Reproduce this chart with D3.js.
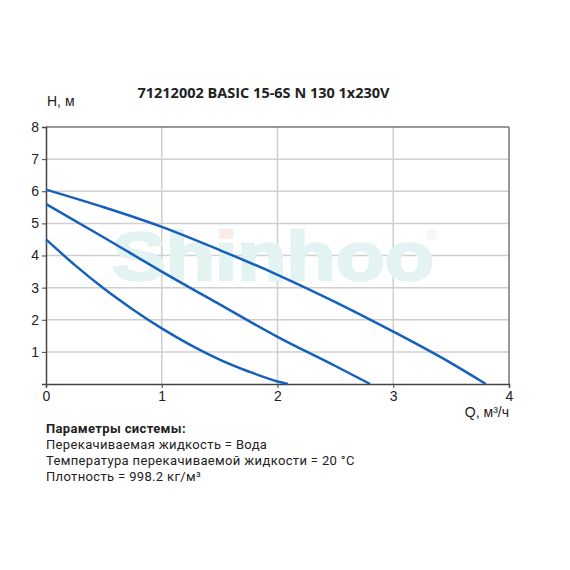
<!DOCTYPE html>
<html><head><meta charset="utf-8">
<script src="https://cdn.jsdelivr.net/npm/d3@7"></script>
<style>body{margin:0;background:#fff}</style>
</head><body>
<script>
const title = "71212002 BASIC 15-6S N 130 1x230V";
const xTicks = [0,1,2,3,4];
const yTicks = [1,2,3,4,5,6,7,8];
const curveLow = [[0,4.5],[0.25,3.7],[0.5,2.97],[0.75,2.32],[1,1.73],[1.25,1.21],[1.5,0.76],[1.75,0.39],[2,0.08],[2.09,0]];
const curveMid = [[0,5.6],[0.5,4.56],[1,3.5],[1.5,2.48],[2,1.47],[2.5,0.56],[2.8,0]];
const curveHigh = [[0,6.05],[0.5,5.5],[1,4.89],[1.5,4.17],[2,3.4],[2.5,2.55],[3,1.63],[3.5,0.65],[3.8,0]];
const infoLines = ["Параметры системы:","Перекачиваемая жидкость = Вода","Температура перекачиваемой жидкости = 20 °C","Плотность = 998.2 кг/м³"];

const W=570,H=570;
const svg=d3.select("body").append("svg").attr("width",W).attr("height",H);
const x=d3.scaleLinear().domain([0,4]).range([46,509]);
const y=d3.scaleLinear().domain([0,8]).range([384,127]);

// grid
svg.append("g").selectAll("line").data(xTicks.filter(d=>d>0&&d<4)).join("line")
 .attr("x1",d=>x(d)).attr("x2",d=>x(d)).attr("y1",y(0)).attr("y2",y(8))
 .attr("stroke","#cfcfcf").attr("stroke-width",1.5);
svg.append("g").selectAll("line").data(yTicks.filter(d=>d<8)).join("line")
 .attr("x1",x(0)).attr("x2",x(4)).attr("y1",d=>y(d)).attr("y2",d=>y(d))
 .attr("stroke","#cfcfcf").attr("stroke-width",1.5);
// frame top/right
svg.append("line").attr("x1",x(0)).attr("x2",x(4)).attr("y1",y(8)).attr("y2",y(8)).attr("stroke","#777").attr("stroke-width",1.5);
svg.append("line").attr("x1",x(4)).attr("x2",x(4)).attr("y1",y(8)).attr("y2",y(0)).attr("stroke","#777").attr("stroke-width",1.5);

// watermark
const wm=svg.append("text").attr("x",112).attr("y",280).attr("font-family","Liberation Sans, Arial, sans-serif")
 .attr("font-weight","bold").attr("font-size",68).attr("fill","#e3f3f1").attr("stroke","#e3f3f1").attr("stroke-width",2.5)
 .attr("textLength",322).attr("lengthAdjust","spacingAndGlyphs");
wm.append("tspan").text("Shinhoo");
svg.append("rect").attr("x",220).attr("y",229).attr("width",11).attr("height",10).attr("fill","#fdebe6");
svg.append("text").attr("x",432).attr("y",240).attr("text-anchor","middle").attr("font-family","Liberation Sans, Arial, sans-serif")
 .attr("font-size",14).attr("fill","#e9ecec").text("®");

// axes
const ax=svg.append("g").attr("transform",`translate(0,${y(0)})`).call(d3.axisBottom(x).tickValues(xTicks).tickSize(4).tickPadding(3).tickFormat(d3.format("d")));
const ay=svg.append("g").attr("transform",`translate(${x(0)},0)`).call(d3.axisLeft(y).tickValues(yTicks).tickSize(4).tickPadding(3).tickFormat(d3.format("d")));
[ax,ay].forEach(g=>{g.select(".domain").attr("stroke","#444").attr("stroke-width",1.5);
 g.selectAll(".tick line").attr("stroke","#444");
 g.selectAll("text").attr("font-family","Liberation Sans, Arial, sans-serif").attr("font-size",14).attr("fill","#222");});

// curves
const line=d3.line().x(d=>x(d[0])).y(d=>y(d[1])).curve(d3.curveMonotoneX);
[curveLow,curveMid,curveHigh].forEach(c=>{
 svg.append("path").attr("d",line(c)).attr("fill","none").attr("stroke","#1560bd").attr("stroke-width",2.5);
});

// labels
svg.append("text").attr("x",263.5).attr("y",98).attr("text-anchor","middle").attr("font-family","Open Sans, sans-serif")
 .attr("font-weight","bold").attr("font-size",14.5).attr("fill","#222").text(title);
svg.append("text").attr("x",47).attr("y",106).attr("font-family","Liberation Sans, Arial, sans-serif").attr("font-size",14).attr("fill","#222").text("Н, м");
svg.append("text").attr("x",509).attr("y",417).attr("text-anchor","end").attr("font-family","Liberation Sans, Arial, sans-serif").attr("font-size",14).attr("fill","#222").text("Q, м³/ч");

svg.append("g").selectAll("text").data(infoLines).join("text")
 .attr("x",46).attr("y",(d,i)=>433+i*16).attr("font-family","Roboto, sans-serif").attr("font-size",13)
 .attr("letter-spacing",0.35)
 .attr("font-weight",(d,i)=>i===0?"bold":"normal").attr("fill","#222").text(d=>d);
</script>
</body></html>
